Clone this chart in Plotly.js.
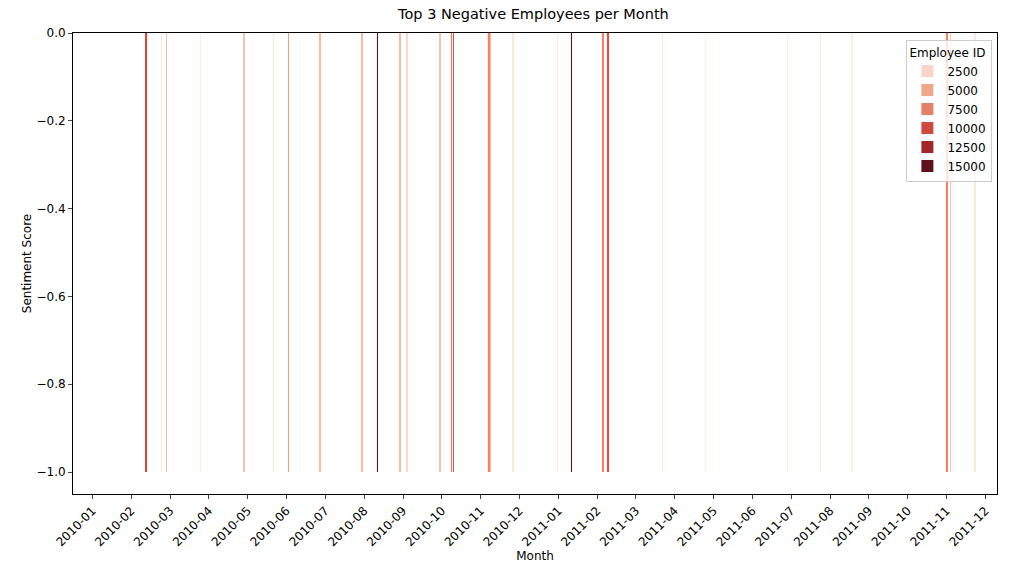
<!DOCTYPE html>
<html>
<head>
<script src="https://cdn.plot.ly/plotly-3.0.1.min.js"></script>
<style>body{margin:0;background:#fff}</style>
</head>
<body>
<div id="chart" style="width:1018px;height:584px"></div>
<script>
const months = ['2010-01','2010-02','2010-03','2010-04','2010-05','2010-06','2010-07','2010-08','2010-09','2010-10','2010-11','2010-12',
  '2011-01','2011-02','2011-03','2011-04','2011-05','2011-06','2011-07','2011-08','2011-09','2011-10','2011-11','2011-12'];
// bar positions as month index + offset from the month tick
const barMonth = [1,1,1,2,3,4,5,5,6,7,7,8,8,9,9,10,10,11,12,13,13,14,15,17,18,19,22,22,22];
const barOffset = [0.37,0.78,0.91,0.78,0.91,0.66,0.05,0.87,0.95,0.34,0.93,0.11,0.96,0.25,0.30,0.22,0.84,0.98,0.34,0.16,0.29,0.68,0.79,0.90,0.75,0.57,0.02,0.10,0.74];
const employeeId = [10000,1500,4000,800,3500,1500,5500,4000,4000,15500,4000,2500,3500,7500,9500,7000,1500,1500,15500,7000,9500,1500,800,800,1500,800,7000,3500,1500];
const barWidth = [0.03,0.015,0.02,0.015,0.02,0.015,0.015,0.02,0.02,0.015,0.02,0.015,0.02,0.02,0.02,0.07,0.02,0.015,0.015,0.02,0.02,0.015,0.015,0.015,0.015,0.015,0.02,0.02,0.015];
const sentiment = barMonth.map(() => -1);
const legendIds = [2500, 5000, 7500, 10000, 12500, 15000];

const reds = [[0,'#fff5f0'],[0.125,'#fee0d2'],[0.25,'#fcbba1'],[0.375,'#fc9272'],[0.5,'#fb6a4a'],[0.625,'#ef3b2c'],[0.75,'#cb181d'],[0.875,'#a50f15'],[1,'#67000d']];
const legendColors = ['#f8d5c8','#efa78a','#e4806a','#cf4a3e','#a3262d','#5e111a'];

const traces = [{
  type: 'bar',
  x: barMonth.map((m, i) => m + barOffset[i]),
  y: sentiment,
  width: barWidth,
  marker: {color: employeeId, colorscale: reds, cmin: 0, cmax: 16000, line: {width: 0}},
  showlegend: false,
  hoverinfo: 'none',
}];
legendIds.forEach((id, i) => traces.push({
  type: 'bar', x: [null], y: [null], name: String(id),
  marker: {color: legendColors[i]}, showlegend: true,
}));

const layout = {
  width: 1018, height: 584,
  margin: {l: 73, r: 21, t: 33, b: 90},
  font: {family: 'DejaVu Sans', size: 12, color: '#000'},
  title: {text: 'Top 3 Negative Employees per Month', x: 0.524, y: 0.985, yanchor: 'top', font: {size: 14.5}},
  plot_bgcolor: '#fff',
  barmode: 'overlay',
  xaxis: {
    range: [-0.5, 23.3],
    tickvals: months.map((m, i) => i), ticktext: months, tickangle: -45,
    showgrid: false, zeroline: false, showline: true, mirror: true, linecolor: '#000',
    ticks: 'outside', ticklen: 4, tickfont: {size: 12},
    title: {text: 'Month', standoff: 2, font: {size: 12}},
  },
  yaxis: {
    range: [-1.05, 0],
    tickvals: [0, -0.2, -0.4, -0.6, -0.8, -1.0],
    ticktext: ['0.0', '−0.2', '−0.4', '−0.6', '−0.8', '−1.0'],
    showgrid: false, zeroline: false, showline: true, mirror: true, linecolor: '#000',
    ticks: 'outside', ticklen: 4,
    title: {text: 'Sentiment Score', font: {size: 12}},
  },
  legend: {
    title: {text: 'Employee ID', side: 'top', font: {size: 12}},
    x: 0.995, xanchor: 'right', y: 0.985, yanchor: 'top',
    bgcolor: 'rgba(255,255,255,0.8)', bordercolor: '#ccc', borderwidth: 1,
    font: {size: 12},
  },
};
Plotly.newPlot('chart', traces, layout, {displayModeBar: false});
</script>
</body>
</html>
